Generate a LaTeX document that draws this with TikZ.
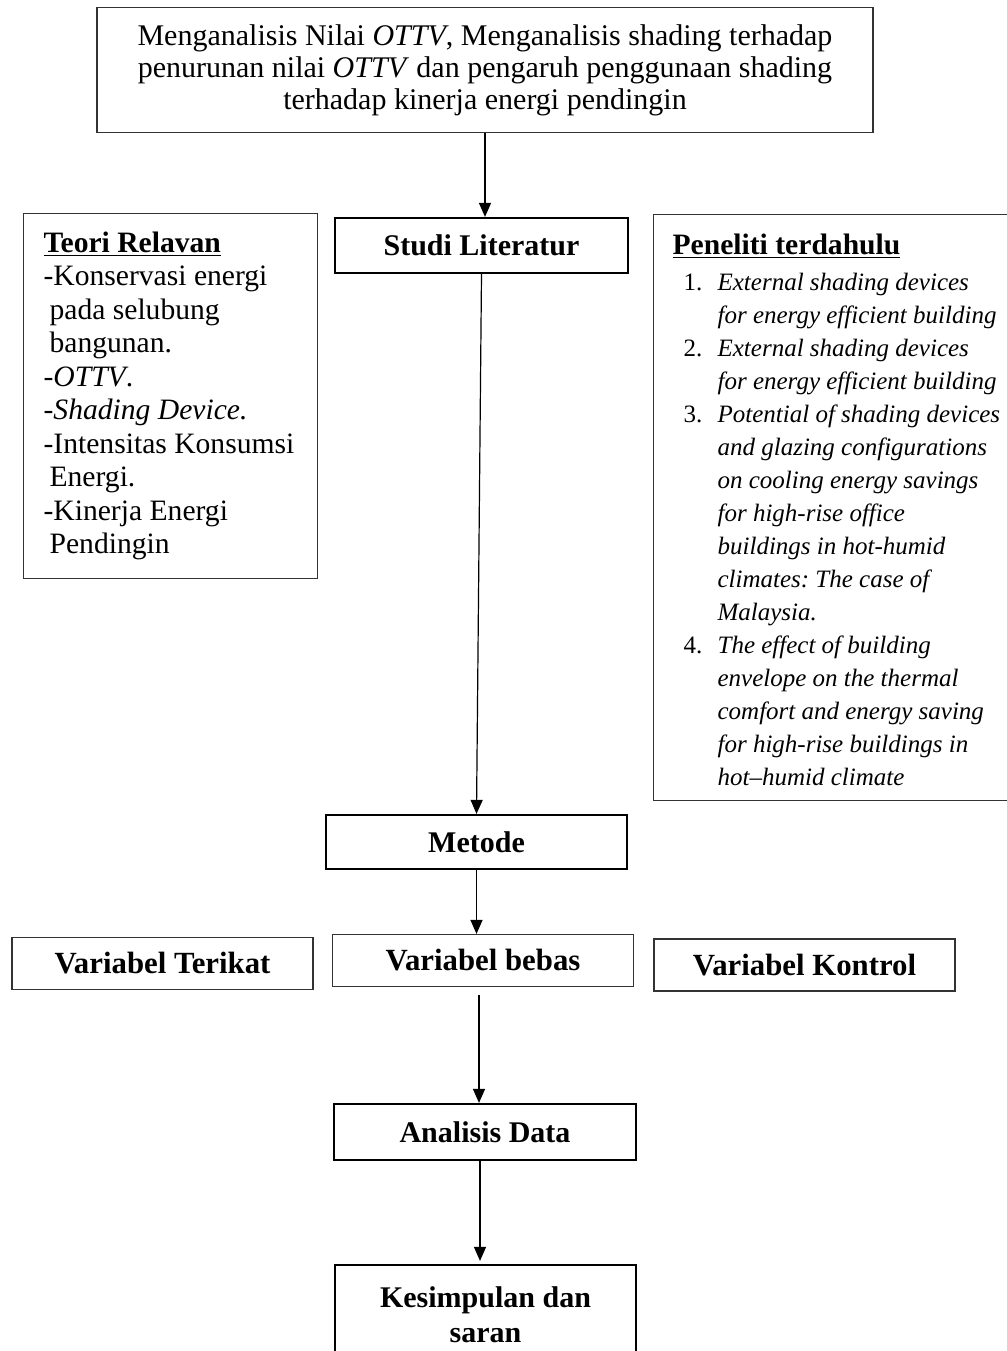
\documentclass[tikz,border=0pt]{standalone}
\usepackage{fontspec}
\setmainfont{Liberation Serif}
\usetikzlibrary{arrows.meta}
\frenchspacing

\newcommand{\itm}[1]{\hspace*{5.5pt}\makebox[17pt][l]{#1}}
\newcommand{\ind}{\hspace*{22.5pt}}

\begin{document}
\begin{tikzpicture}[x=0.5pt, y=-0.5pt, line width=0.6pt,
  font=\fontsize{15}{16}\selectfont,
  >={Triangle[width=6pt,length=7pt]},
  kotak/.style={draw=black!80, line width=0.6pt, inner sep=0pt, align=center},
  kotaktebal/.style={draw, line width=1.1pt, inner sep=0pt, align=center,
    font=\fontsize{15}{17.5}\selectfont\bfseries},
  varbox/.style={kotak, minimum width=150.5pt, minimum height=26pt,
    font=\fontsize{15.4}{17.5}\selectfont\bfseries},
  teks/.style={anchor=north west, inner sep=0pt, align=left,
    font=\fontsize{14.8}{16.75}\selectfont}]
  \useasboundingbox (0,0) rectangle (1007,1351);
  \clip (0,0) rectangle (1007,1351);

  % kotak tujuan
  \node[kotak, minimum width=388pt, minimum height=62.5pt] (tujuan) at (485,70)
    {Menganalisis Nilai \textit{OTTV}, Menganalisis shading terhadap\\
     penurunan nilai \textit{OTTV} dan pengaruh penggunaan shading\\
     terhadap kinerja energi pendingin};

  % alur utama
  \node[kotaktebal, minimum width=146.5pt, minimum height=27.5pt] (studi) at (481.5,245.5) {Studi Literatur};
  \node[kotaktebal, minimum width=150.5pt, minimum height=27pt] (metode) at (476.5,842) {Metode};
  \node[varbox] (bebas) at (483,960.5) {Variabel bebas};
  \node[varbox] (terikat) at (162.5,963.5) {Variabel Terikat};
  \node[varbox] (kontrol) at (804.5,965) {Variabel Kontrol};
  \node[kotaktebal, minimum width=151pt, minimum height=28pt] (analisis) at (485,1132) {Analisis Data};
  \node[kotaktebal, minimum width=150.5pt, minimum height=50pt] (simpul) at (485.5,1315)
    {Kesimpulan dan\\saran};

  % teori relavan
  \node[kotak, anchor=north west, minimum width=147pt, minimum height=182.5pt] (teori) at (23,213) {};
  \node[teks] (teoriteks) at ([xshift=10pt,yshift=-9pt]teori.north west)
    {\textbf{\underline{Teori Relavan}}\\
     -Konservasi energi\\
     \hspace*{3pt}pada selubung\\
     \hspace*{3pt}bangunan.\\
     -\textit{OTTV}.\\
     -\textit{Shading Device.}\\
     -Intensitas Konsumsi\\
     \hspace*{3pt}Energi.\\
     -Kinerja Energi\\
     \hspace*{3pt}Pendingin};

  % peneliti terdahulu
  \node[kotak, anchor=north west, minimum width=195pt, minimum height=293pt] (peneliti) at (653,214) {};
  \node[teks, font=\fontsize{12.5}{16.5}\selectfont] (penelititeks) at ([xshift=9.5pt,yshift=-9.5pt]peneliti.north west)
    {{\fontsize{14.8}{16.5}\selectfont\bfseries\underline{Peneliti terdahulu}}\\[1.5pt]
     \itm{1.}\textit{External shading devices}\\
     \ind\textit{for energy efficient building}\\
     \itm{2.}\textit{External shading devices}\\
     \ind\textit{for energy efficient building}\\
     \itm{3.}\textit{Potential of shading devices}\\
     \ind\textit{and glazing configurations}\\
     \ind\textit{on cooling energy savings}\\
     \ind\textit{for high-rise office}\\
     \ind\textit{buildings in hot-humid}\\
     \ind\textit{climates: The case of}\\
     \ind\textit{Malaysia.}\\
     \itm{4.}\textit{The effect of building}\\
     \ind\textit{envelope on the thermal}\\
     \ind\textit{comfort and energy saving}\\
     \ind\textit{for high-rise buildings in}\\
     \ind\textit{hot--humid climate}};

  % panah
  \draw[->] (tujuan.south) -- (tujuan.south |- studi.north);
  \draw[->] (studi.south) -- (metode.north);
  \draw[->] (metode.south) -- (metode.south |- bebas.north);
  \draw[->, shorten <=4pt] ([xshift=-2pt]bebas.south) -- ([xshift=-2pt]bebas.south |- analisis.north);
  \draw[->, shorten >=1.5pt] ([xshift=-2.5pt]analisis.south) -- ([xshift=-2.5pt]analisis.south |- simpul.north);
\end{tikzpicture}
\end{document}
